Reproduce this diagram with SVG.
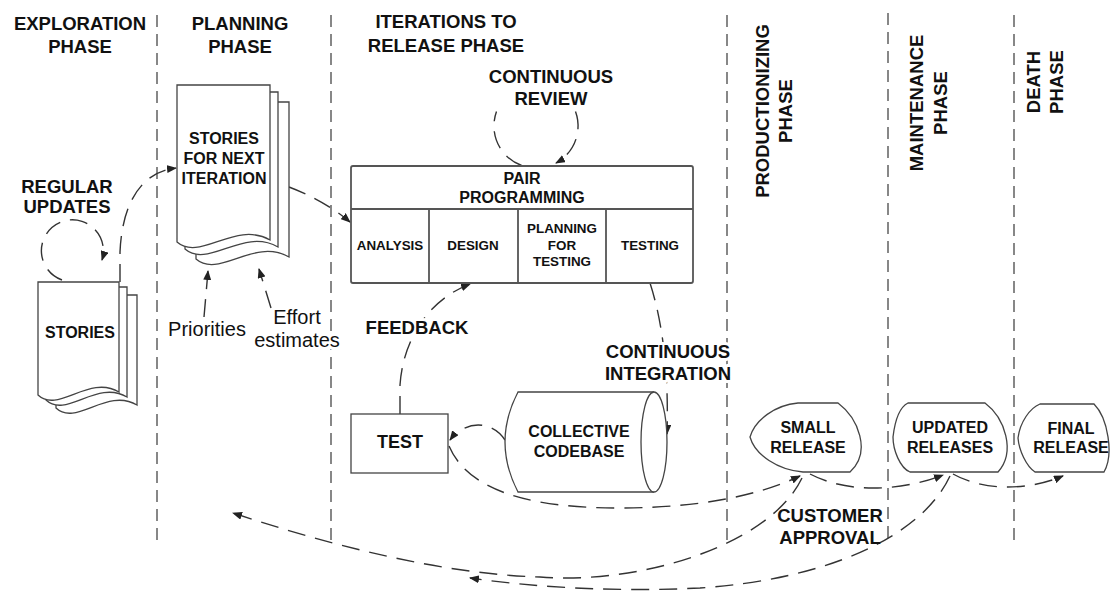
<svg xmlns="http://www.w3.org/2000/svg" width="1110" height="592" viewBox="0 0 1110 592">
<style>
.bg{fill:#fff}
.sep{stroke:#555;stroke-width:1.4;stroke-dasharray:12 7;fill:none}
.shape{fill:#fff;stroke:#444;stroke-width:1.3}
.box{fill:#fff;stroke:#555;stroke-width:1.8}
.con{fill:none;stroke:#333;stroke-width:1.4;stroke-dasharray:18 10}
.h{font-family:"Liberation Sans",Arial,sans-serif;font-weight:bold;font-size:18.5px;fill:#111;text-anchor:middle}
.m{font-family:"Liberation Sans",Arial,sans-serif;font-weight:bold;font-size:16px;fill:#111;text-anchor:middle}
.s{font-family:"Liberation Sans",Arial,sans-serif;font-weight:bold;font-size:13.4px;fill:#111;text-anchor:middle}
.r{font-family:"Liberation Sans",Arial,sans-serif;font-size:20px;fill:#111;text-anchor:middle}
.halo{paint-order:stroke;stroke:#fff;stroke-width:6;stroke-linejoin:round}
</style>
<defs>
<marker id="ah" viewBox="0 0 10 8" refX="9" refY="4" markerWidth="10" markerHeight="8" markerUnits="userSpaceOnUse" orient="auto"><path d="M0,0 L10,4 L0,8 z" fill="#222"/></marker>
</defs>
<rect class="bg" x="0" y="0" width="1110" height="592"/>

<g id="phase-separators">
<line class="sep" x1="157" y1="15" x2="157" y2="545"/>
<line class="sep" x1="331" y1="15" x2="331" y2="540"/>
<line class="sep" x1="727" y1="15" x2="727" y2="540"/>
<line class="sep" x1="888" y1="13" x2="888" y2="545"/>
<line class="sep" x1="1014" y1="15" x2="1014" y2="540"/>
</g>

<g id="phase-labels">
<text class="h" x="80" y="30">EXPLORATION</text>
<text class="h" x="80" y="53">PHASE</text>
<text class="h" x="240" y="30">PLANNING</text>
<text class="h" x="240" y="53">PHASE</text>
<text class="h" x="446" y="28">ITERATIONS TO</text>
<text class="h" x="446" y="52">RELEASE PHASE</text>
<text class="h" transform="translate(769,111) rotate(-90)">PRODUCTIONIZING</text>
<text class="h" transform="translate(792,111) rotate(-90)">PHASE</text>
<text class="h" transform="translate(923,103) rotate(-90)">MAINTENANCE</text>
<text class="h" transform="translate(947,103) rotate(-90)">PHASE</text>
<text class="h" transform="translate(1040,82) rotate(-90)">DEATH</text>
<text class="h" transform="translate(1063,82) rotate(-90)">PHASE</text>
</g>

<g id="connectors">
<path class="con" d="M62,280 A31,31 0 1 1 102,260" marker-end="url(#ah)"/>
<path class="con" d="M120,282 V252 C122,205 140,172 176,168" marker-end="url(#ah)"/>
<path class="con" d="M289,187 C305,193 330,205 350,222" marker-end="url(#ah)"/>
<path class="con" d="M204,317 L208,271" marker-end="url(#ah)"/>
<path class="con" d="M271,308 L259,269" marker-end="url(#ah)"/>
<path class="con" d="M521.6,165.5 A42,42 0 0 1 496.5,111.6"/>
<path class="con" d="M575.5,111.6 A42,42 0 0 1 556,163" marker-end="url(#ah)"/>
<path class="con" d="M400,414 V385 C403,340 428,300 470,284" marker-end="url(#ah)"/>
<path class="con" d="M650,283 C662,320 669,370 667,434" marker-end="url(#ah)"/>
<path class="con" d="M505,440 C492,420 465,420 450,440" marker-end="url(#ah)"/>
<path class="con" d="M449,446 C470,495 540,508 620,508 C700,508 760,495 800,476" marker-end="url(#ah)"/>
<path class="con" d="M810,474 C850,495 905,490 943,475" marker-end="url(#ah)"/>
<path class="con" d="M953,474 C985,492 1030,490 1063,476" marker-end="url(#ah)"/>
<path class="con" d="M802,478 C770,545 640,585 540,577 C440,574 330,545 233,513" marker-end="url(#ah)"/>
<path class="con" d="M950,476 C920,540 820,580 700,588 C620,592 540,588 470,578" marker-end="url(#ah)"/>
</g>

<g id="stories">
<path class="shape" d="M56,295 H137 V405 C107,387 76,427 56,408 Z"/>
<path class="shape" d="M46,287 H127 V397 C97,379 66,419 46,400 Z"/>
<path class="shape" d="M38,282 H119 V392 C89,374 58,414 38,395 Z"/>
<text class="m" x="80" y="338">STORIES</text>
</g>

<g id="stories-next-iteration">
<path class="shape" d="M196,102 H289 V257 C254,237 219,279 196,259 Z"/>
<path class="shape" d="M185,92 H278 V247 C243,227 208,269 185,249 Z"/>
<path class="shape" d="M177,85 H270 V240 C235,220 200,262 177,242 Z"/>
<text class="m" x="224" y="144">STORIES</text>
<text class="m" x="224" y="164">FOR NEXT</text>
<text class="m" x="224" y="184">ITERATION</text>
</g>

<g id="pair-programming">
<rect class="box" x="351" y="166" width="342" height="117" rx="2"/>
<line class="box" x1="351" y1="209" x2="693" y2="209"/>
<line class="box" x1="429" y1="209" x2="429" y2="283"/>
<line class="box" x1="518" y1="209" x2="518" y2="283"/>
<line class="box" x1="606" y1="209" x2="606" y2="283"/>
<text class="m" x="522" y="184">PAIR</text>
<text class="m" x="522" y="203">PROGRAMMING</text>
<text class="s" x="390" y="250">ANALYSIS</text>
<text class="s" x="473" y="250">DESIGN</text>
<text class="s" x="562" y="233">PLANNING</text>
<text class="s" x="562" y="250">FOR</text>
<text class="s" x="562" y="266">TESTING</text>
<text class="s" x="650" y="250">TESTING</text>
</g>

<g id="test">
<rect class="shape" x="351" y="414" width="97" height="59"/>
<text class="h" x="400" y="448" style="font-size:18px">TEST</text>
</g>

<g id="collective-codebase">
<path class="shape" d="M518,392 H654 V492 H518 Q492,442 518,392 Z" style="stroke:none"/>
<path class="shape" style="fill:none" d="M654,392 H518 Q492,442 518,492 H654"/>
<ellipse class="shape" cx="654" cy="442" rx="13" ry="50"/>
<text class="m" x="579" y="437">COLLECTIVE</text>
<text class="m" x="579" y="457">CODEBASE</text>
</g>

<g id="small-release">
<path class="shape" d="M798,403 H838 C858,418 872,452 850,472 H803 C778,470 755,455 750,437 C755,420 775,405 798,403 Z"/>
<text class="m" x="808" y="433">SMALL</text>
<text class="m" x="808" y="453">RELEASE</text>
</g>

<g id="updated-releases">
<path class="shape" d="M908,403 H985 C1005,418 1016,452 998,472 H910 C900,468 893,450 893,437 C895,420 900,407 908,403 Z"/>
<text class="m" x="950" y="433">UPDATED</text>
<text class="m" x="950" y="453">RELEASES</text>
</g>

<g id="final-release">
<path class="shape" d="M1040,404 H1094 C1108,418 1114,455 1104,472 H1035 C1026,466 1019,450 1018,438 C1020,422 1030,408 1040,404 Z"/>
<text class="m" x="1071" y="434">FINAL</text>
<text class="m" x="1071" y="453">RELEASE</text>
</g>

<g id="labels">
<text class="h halo" x="67" y="193">REGULAR</text>
<text class="h halo" x="67" y="213">UPDATES</text>
<text class="h halo" x="551" y="83">CONTINUOUS</text>
<text class="h halo" x="551" y="105">REVIEW</text>
<text class="h halo" x="417" y="334">FEEDBACK</text>
<text class="h halo" x="668" y="358">CONTINUOUS</text>
<text class="h halo" x="668" y="380">INTEGRATION</text>
<text class="h" x="830" y="522">CUSTOMER</text>
<text class="h" x="830" y="544">APPROVAL</text>
<text class="r halo" x="207" y="336">Priorities</text>
<text class="r halo" x="297" y="324">Effort</text>
<text class="r halo" x="297" y="347">estimates</text>
</g>
</svg>
